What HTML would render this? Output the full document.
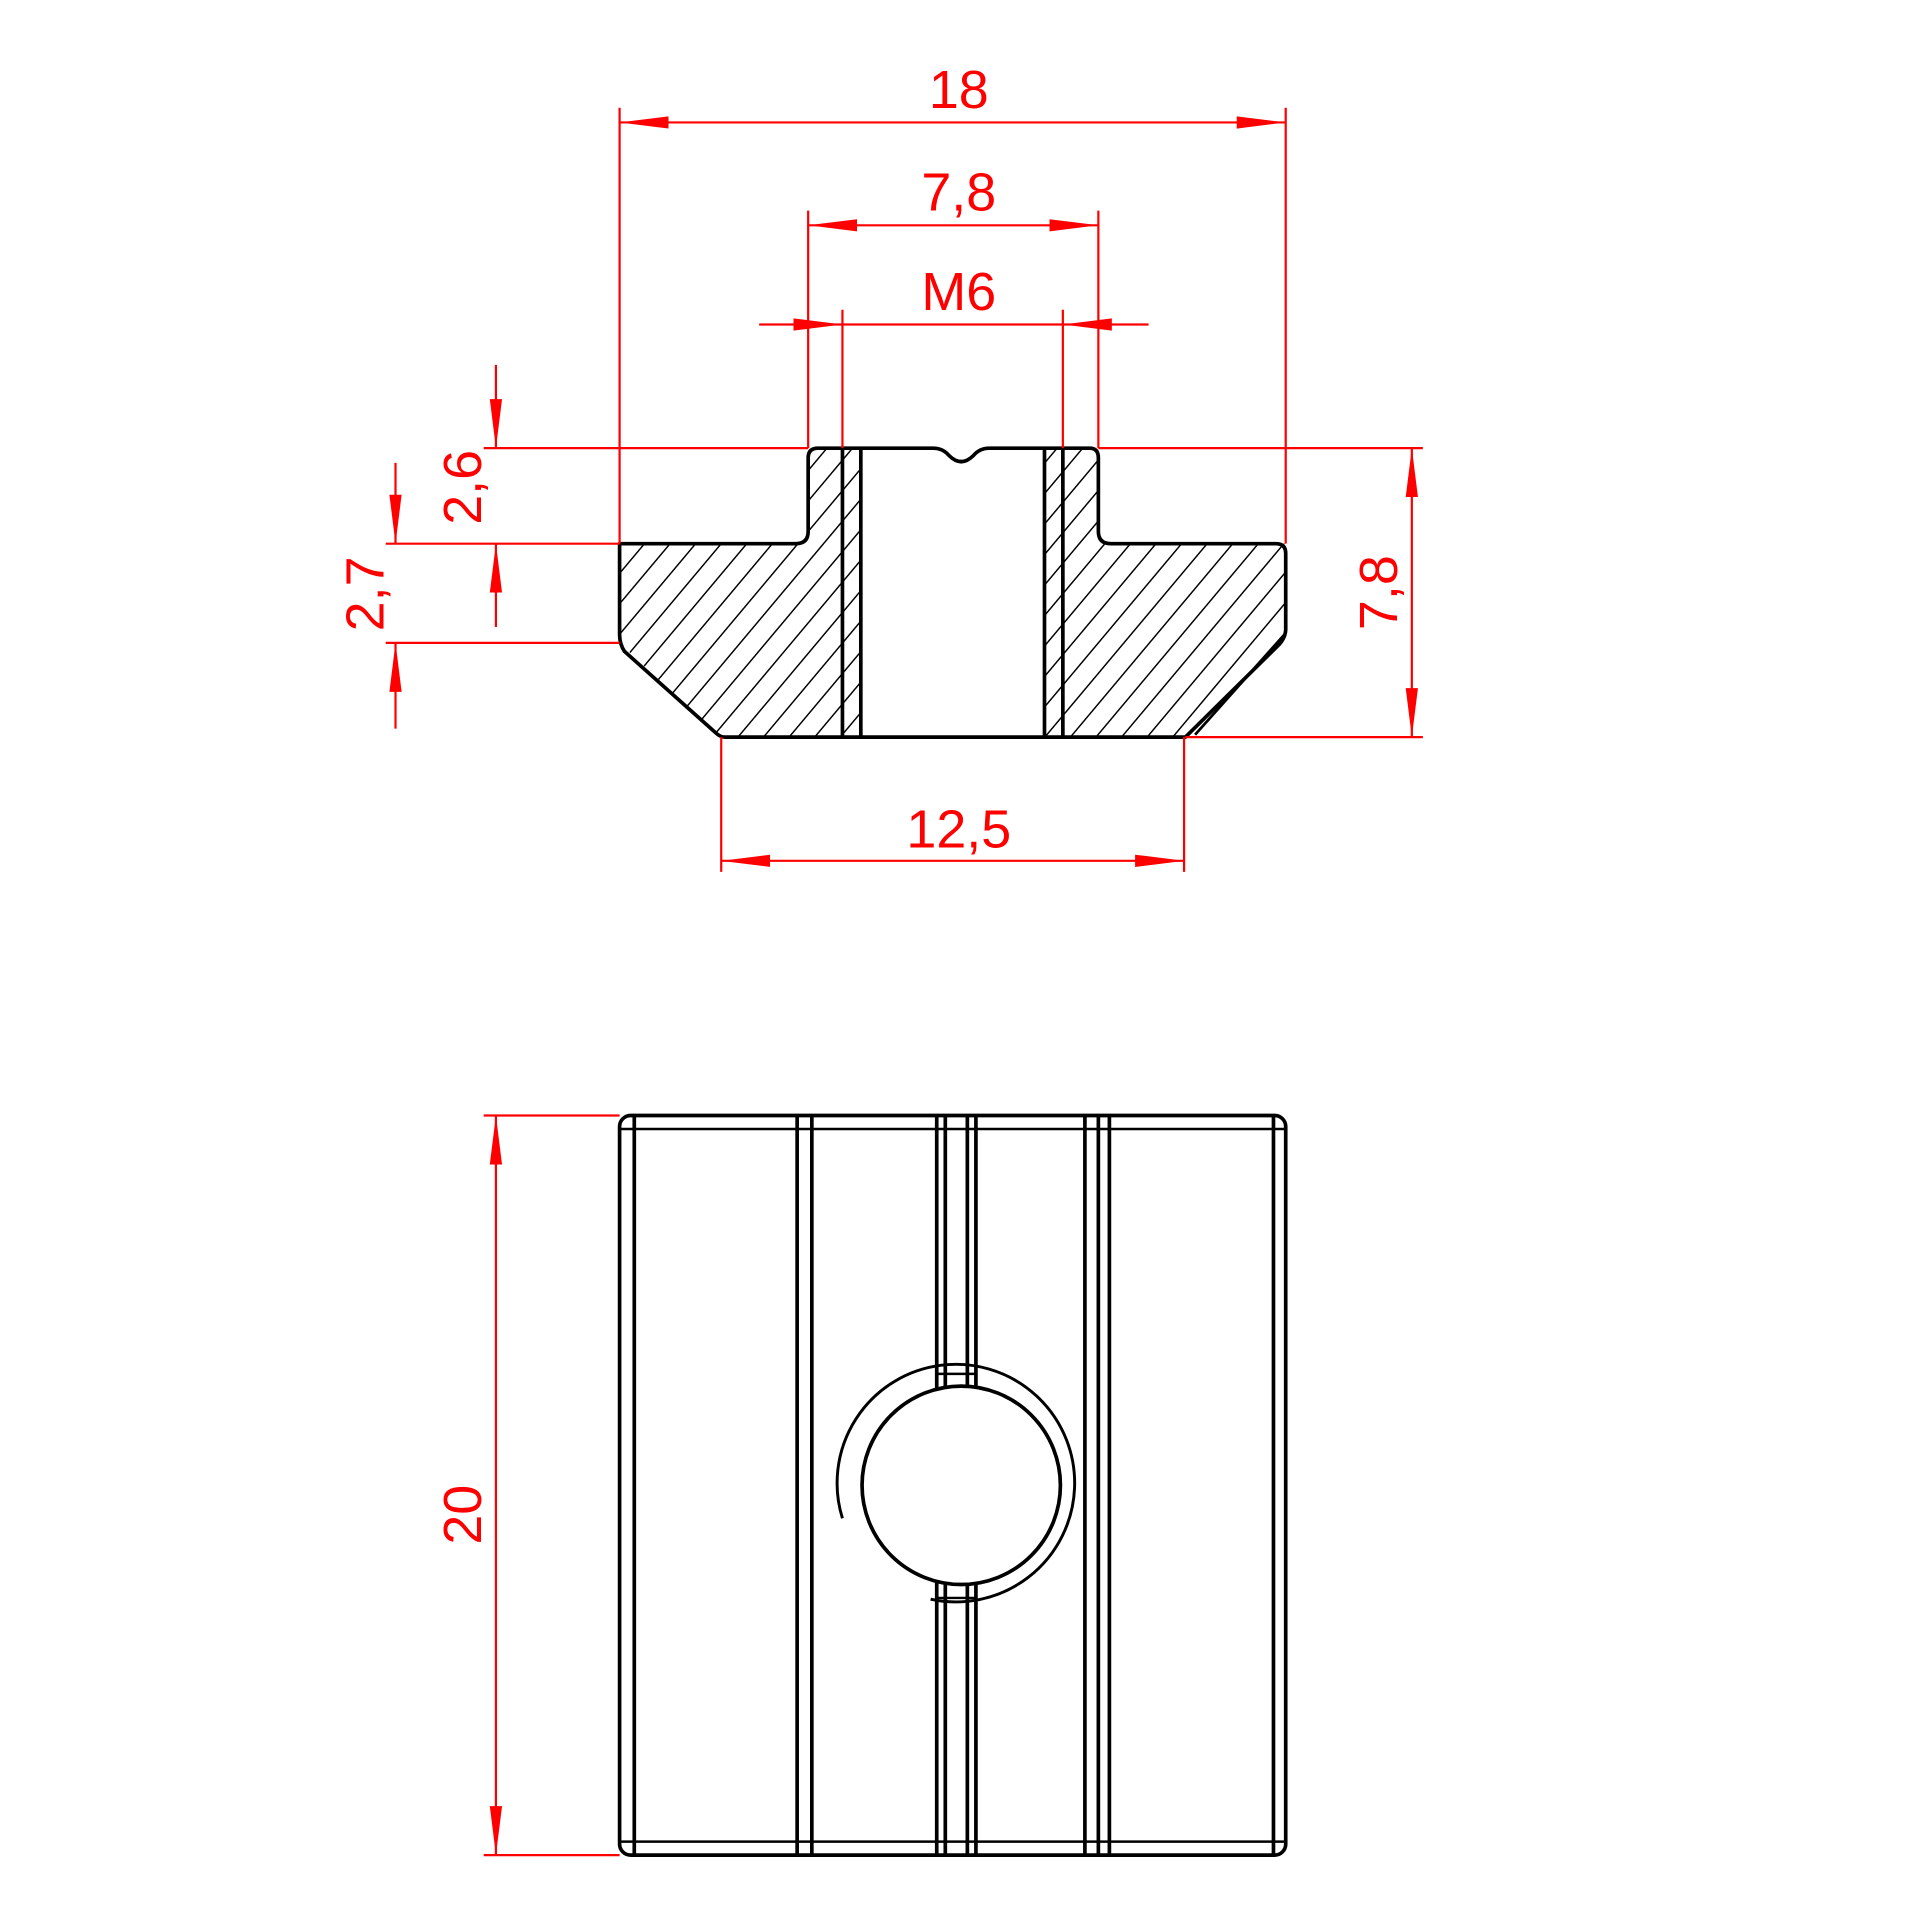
<!DOCTYPE html>
<html><head><meta charset="utf-8"><style>html,body{margin:0;padding:0;background:#fff}svg{display:block}</style></head>
<body>
<svg width="1920" height="1920" viewBox="0 0 1568 1568" xmlns="http://www.w3.org/2000/svg">
<defs>
<marker id="a" viewBox="0 0 40 12" refX="40" refY="6" markerWidth="40" markerHeight="12" markerUnits="userSpaceOnUse" orient="auto-start-reverse"><path d="M0,1 L40,6 L0,11 Z" fill="#f00"/></marker>
<pattern id="h" patternUnits="userSpaceOnUse" width="16" height="16" patternTransform="rotate(40)"><line x1="0" y1="0" x2="0" y2="16" stroke="#000" stroke-width="2.4"/></pattern>
<clipPath id="c"><path d="M660,366 L897,366 L897,444 L1050,444 L1050,520 L968,602 L588,602 L506,525 L506,444 L660,444 Z"/></clipPath>
</defs>
<g fill="none" stroke="#000" stroke-width="3" stroke-linejoin="round">
<rect x="506" y="366" width="544" height="236" fill="url(#h)" clip-path="url(#c)" stroke="none"/>
<rect x="703" y="366" width="150" height="236" fill="#fff" stroke="none"/>
<path d="M668,366 L762,366 Q770,366 775,372 Q785,382 795,372 Q800,366 808,366 L890,366 Q897,366 897,374 L897,434 Q897,444 907,444 L1042,444 Q1050,444 1050,452 L1050,514 Q1050,520 1045,526 L968,602 L592,602 Q588,602 584,598 L510,532 Q506,526 506,518 L506,444 L650,444 Q660,444 660,434 L660,374 Q660,366 668,366 Z"/>
<line x1="688" y1="366" x2="688" y2="602"/><line x1="703" y1="366" x2="703" y2="602"/>
<line x1="853" y1="366" x2="853" y2="602"/><line x1="868" y1="366" x2="868" y2="602"/>
<line x1="1050" y1="517" x2="976" y2="600" stroke-width="2.2"/>
<!-- bottom view -->
<rect x="506" y="911" width="544" height="604" rx="9"/>
<line x1="518" y1="911" x2="518" y2="1515"/><line x1="1040" y1="911" x2="1040" y2="1515"/>
<line x1="506" y1="922" x2="1050" y2="922" stroke-width="2"/><line x1="506" y1="1504" x2="1050" y2="1504" stroke-width="2"/>
<line x1="651" y1="911" x2="651" y2="1515"/><line x1="663" y1="911" x2="663" y2="1515"/>
<line x1="886" y1="911" x2="886" y2="1515"/><line x1="897" y1="911" x2="897" y2="1515"/><line x1="906" y1="911" x2="906" y2="1515"/>
<path d="M765,911 L765,1135 M772,911 L772,1135 M790,911 L790,1135 M797,911 L797,1135"/>
<path d="M765,1291 L765,1515 M772,1291 L772,1515 M790,1291 L790,1515 M797,1291 L797,1515"/>
<line x1="765" y1="1122" x2="797" y2="1122" stroke-width="2"/><line x1="765" y1="1305" x2="797" y2="1305" stroke-width="2"/>
<circle cx="785" cy="1213" r="81" fill="#fff"/>
<path d="M688,1240 A97,97 0 1 1 760,1306" stroke-width="2.4"/>
</g>
<g stroke="#f00" stroke-width="1.8" fill="none">
<line x1="506" y1="88" x2="506" y2="444"/><line x1="1050" y1="88" x2="1050" y2="444"/>
<line x1="660" y1="172" x2="660" y2="366"/><line x1="897" y1="172" x2="897" y2="366"/>
<line x1="688" y1="253" x2="688" y2="366"/><line x1="868" y1="253" x2="868" y2="366"/>
<line x1="395" y1="366" x2="660" y2="366"/><line x1="897" y1="366" x2="1162" y2="366"/>
<line x1="315" y1="444" x2="506" y2="444"/><line x1="315" y1="525" x2="506" y2="525"/>
<line x1="968" y1="602" x2="1162" y2="602"/>
<line x1="589" y1="602" x2="589" y2="712"/><line x1="967" y1="602" x2="967" y2="712"/>
<line x1="395" y1="911" x2="506" y2="911"/><line x1="395" y1="1515" x2="506" y2="1515"/>
<line x1="506" y1="100" x2="1050" y2="100" marker-start="url(#a)" marker-end="url(#a)"/>
<line x1="660" y1="184" x2="897" y2="184" marker-start="url(#a)" marker-end="url(#a)"/>
<line x1="620" y1="265" x2="688" y2="265" marker-end="url(#a)"/>
<line x1="688" y1="265" x2="868" y2="265"/>
<line x1="938" y1="265" x2="868" y2="265" marker-end="url(#a)"/>
<line x1="405" y1="298" x2="405" y2="366" marker-end="url(#a)"/>
<line x1="405" y1="512" x2="405" y2="444" marker-end="url(#a)"/>
<line x1="323" y1="378" x2="323" y2="444" marker-end="url(#a)"/>
<line x1="323" y1="595" x2="323" y2="525" marker-end="url(#a)"/>
<line x1="1153" y1="366" x2="1153" y2="602" marker-start="url(#a)" marker-end="url(#a)"/>
<line x1="589" y1="703" x2="967" y2="703" marker-start="url(#a)" marker-end="url(#a)"/>
<line x1="405" y1="911" x2="405" y2="1515" marker-start="url(#a)" marker-end="url(#a)"/>
</g>
<g fill="#f00" font-family="Liberation Sans, sans-serif" font-size="44" text-anchor="middle">
<text x="783" y="88">18</text>
<text x="783" y="172">7,8</text>
<text x="783" y="253">M6</text>
<text x="783" y="692">12,5</text>
<text transform="translate(393,398) rotate(-90)">2,6</text>
<text transform="translate(313,485) rotate(-90)">2,7</text>
<text transform="translate(1141,484) rotate(-90)">7,8</text>
<text transform="translate(393,1237) rotate(-90)">20</text>
</g>
</svg>
</body></html>
